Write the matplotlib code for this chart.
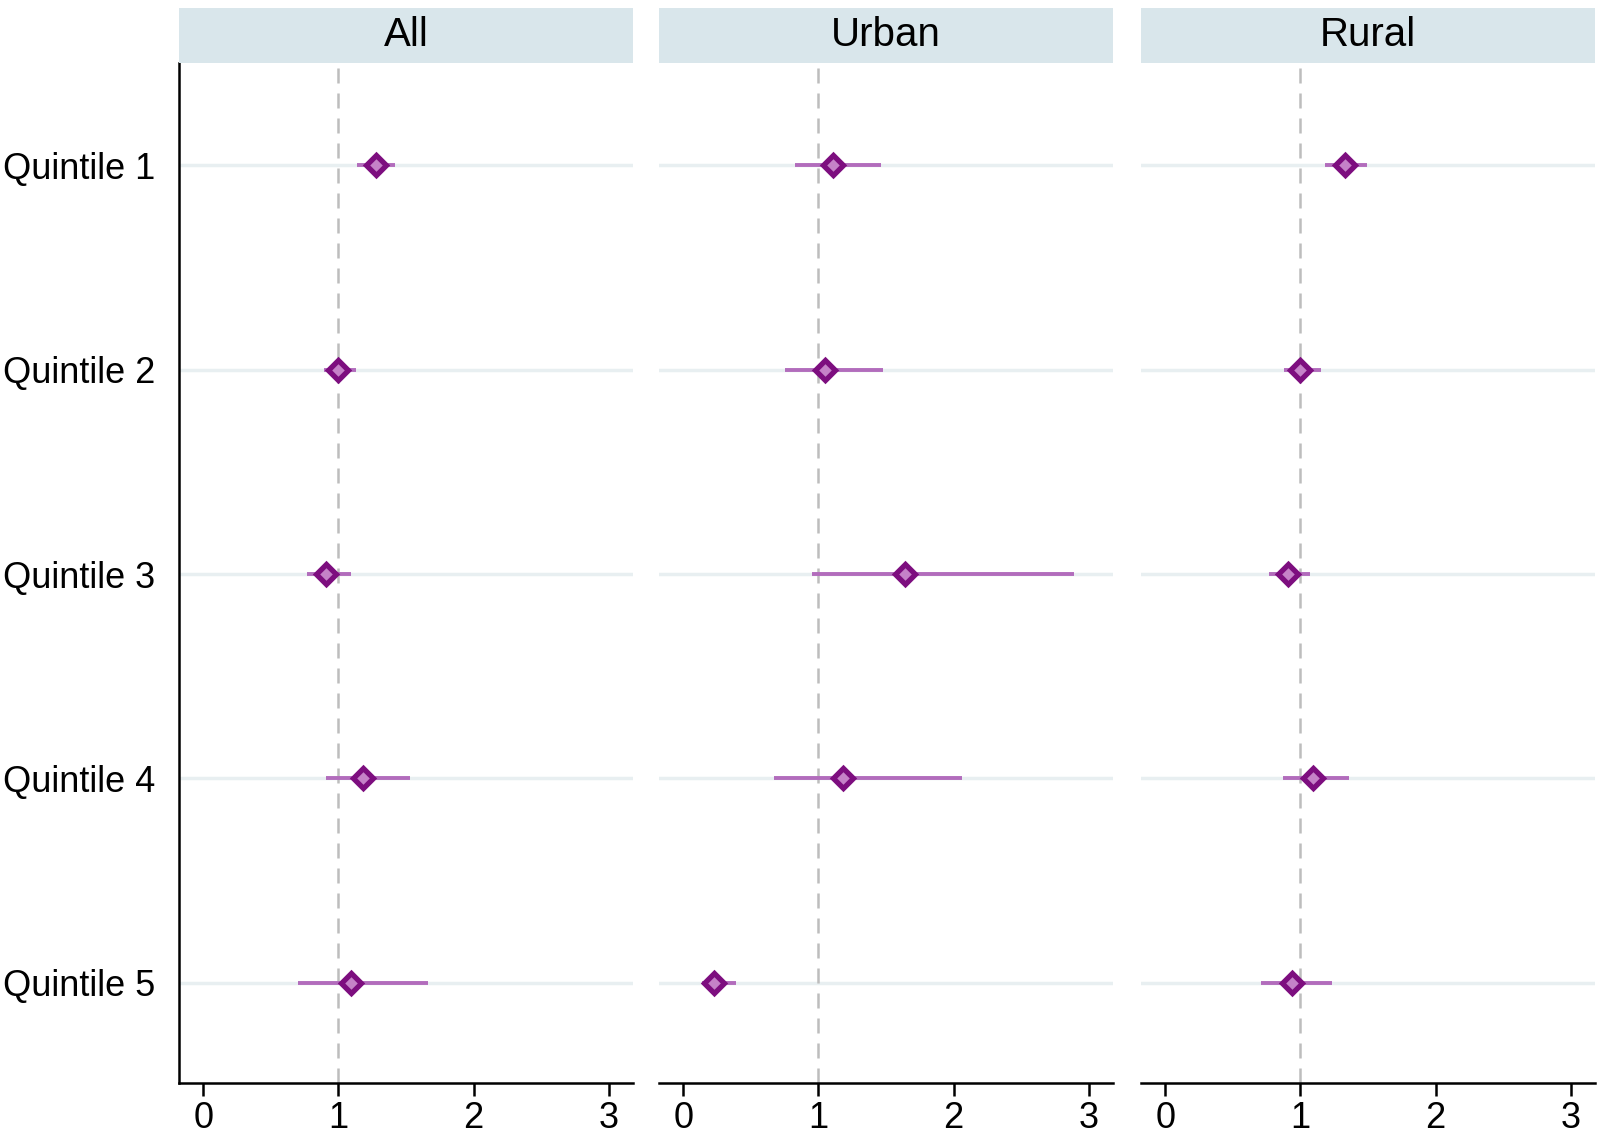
import matplotlib
matplotlib.use("Agg")
import matplotlib.pyplot as plt
from matplotlib.patches import Rectangle

plt.rcParams["font.family"] = ["Liberation Sans", "DejaVu Sans"]

QUINTILES = ["Quintile 1", "Quintile 2", "Quintile 3", "Quintile 4", "Quintile 5"]
PANELS = ["All", "Urban", "Rural"]

# point estimate, lower bound, upper bound per panel
ALL_EST = [1.28, 1.00, 0.91, 1.18, 1.09]
ALL_LO = [1.14, 0.89, 0.77, 0.91, 0.70]
ALL_HI = [1.42, 1.13, 1.09, 1.53, 1.66]

URBAN_EST = [1.11, 1.05, 1.64, 1.18, 0.23]
URBAN_LO = [0.83, 0.75, 0.95, 0.67, 0.14]
URBAN_HI = [1.46, 1.48, 2.89, 2.06, 0.39]

RURAL_EST = [1.33, 1.00, 0.91, 1.09, 0.94]
RURAL_LO = [1.18, 0.88, 0.77, 0.87, 0.71]
RURAL_HI = [1.49, 1.15, 1.07, 1.36, 1.23]

XTICKS = [0, 1, 2, 3]

data = [(ALL_EST, ALL_LO, ALL_HI),
        (URBAN_EST, URBAN_LO, URBAN_HI),
        (RURAL_EST, RURAL_LO, RURAL_HI)]

fig = plt.figure(figsize=(16.01, 11.37), dpi=100)
lefts = [179, 659, 1141]
width = 454
bottom = 1 - 1083 / 1137
top = 1 - 63 / 1137
strip_h = 55 / 1137
ypos = list(range(1, len(QUINTILES) + 1))

for k, (name, (est, lo, hi)) in enumerate(zip(PANELS, data)):
    ax = fig.add_axes([lefts[k] / 1601, bottom, width / 1601, top - bottom])
    ax.set_xlim(-0.18, 3.18)
    ax.set_ylim(5.49, 0.5)
    # horizontal reference lines per row
    for y in ypos:
        ax.axhline(y, color="#e8eff1", lw=2.5, zorder=0)
    ax.axvline(1, color="#bdbdbd", lw=1.8, ls=(0, (6, 4)), zorder=1)
    ax.hlines(ypos, lo, hi, color="#b26cbc", lw=2.8, zorder=2)
    ax.plot(est, ypos, ls="none", marker="D", ms=10, mfc="#c582c8",
            mec="#7d0e7f", mew=3.8, zorder=3)

    ax.set_xticks(XTICKS)
    ax.set_xticklabels([str(t) for t in XTICKS])
    ax.tick_params(axis="x", length=9, width=1.8, labelsize=26, pad=4)
    ax.set_yticks(ypos)
    if k == 0:
        ax.set_yticklabels(QUINTILES)
        ax.tick_params(axis="y", length=0, labelsize=26, pad=17)
    else:
        ax.set_yticklabels([])
        ax.tick_params(axis="y", length=0)
        ax.spines["left"].set_visible(False)
    ax.spines["top"].set_visible(False)
    ax.spines["right"].set_visible(False)
    ax.spines["bottom"].set_linewidth(1.8)
    ax.spines["left"].set_linewidth(1.8)

    # panel header strip
    sx = lefts[k] / 1601
    fig.patches.append(Rectangle((sx, top), width / 1601, strip_h,
                                 transform=fig.transFigure,
                                 facecolor="#d9e6eb", edgecolor="none"))
    fig.text(sx + width / 1601 / 2, top + strip_h / 2, name,
             ha="center", va="center", fontsize=29)

fig.savefig("out.png", dpi=100)
